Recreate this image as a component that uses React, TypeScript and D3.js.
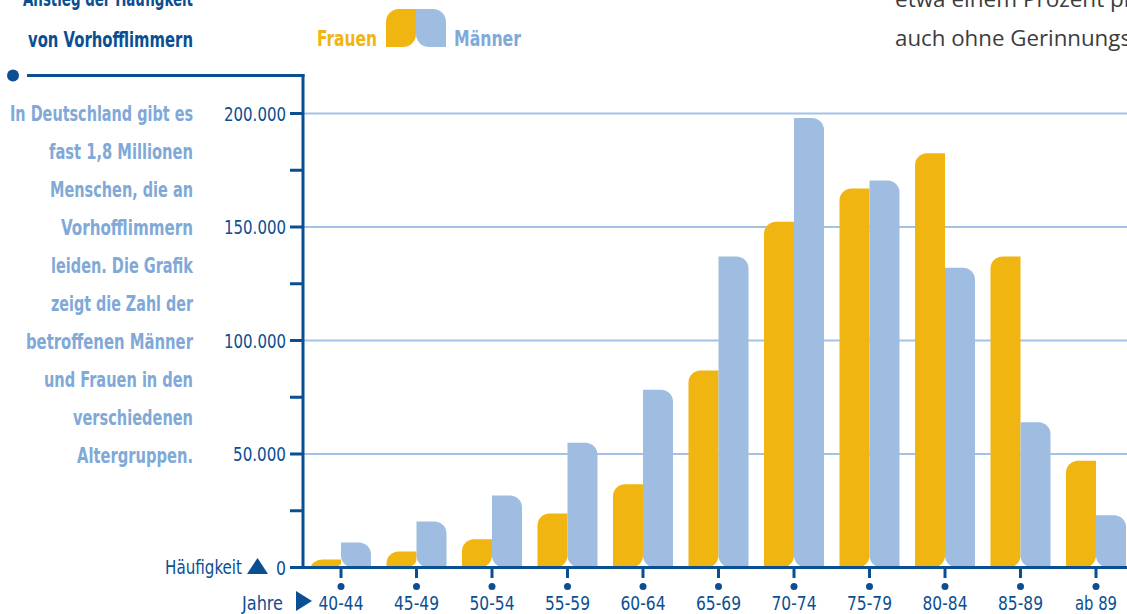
import React from "react";
import * as d3 from "d3";

const categories = ["40-44", "45-49", "50-54", "55-59", "60-64", "65-69", "70-74", "75-79", "80-84", "85-89", "ab 89"];
const frauen = [3500, 7000, 12500, 23800, 36700, 86800, 152300, 167000, 182500, 137000, 47000];
const maenner = [11000, 20300, 31700, 55000, 78300, 137000, 198000, 170500, 132000, 64000, 23000];
const majorTicks = [0, 50000, 100000, 150000, 200000];
const minorTicks = [25000, 75000, 125000, 175000];
const sideText = [
  "In Deutschland gibt es",
  "fast 1,8 Millionen",
  "Menschen, die an",
  "Vorhofflimmern",
  "leiden. Die Grafik",
  "zeigt die Zahl der",
  "betroffenen Männer",
  "und Frauen in den",
  "verschiedenen",
  "Altergruppen.",
];
const sideStarts = [10, 49, 50, 61, 51, 51, 26, 44, 73, 77];

const YELLOW = "#f0b510";
const BLUE = "#9fbde0";
const DARK = "#0b4f93";
const GRID = "#a4c2e6";
const SIDE = "#80a9d8";
const COND = "'DejaVu Sans Condensed', 'DejaVu Sans', sans-serif";

function leafF(x: number, y: number, w: number, h: number, r: number) {
  const rx = Math.min(r, w / 2);
  const ry1 = Math.min(r, h);
  const ry2 = Math.min(r, h / 2);
  return `M${x},${y + h}L${x},${y + ry1}A${rx},${ry1} 0 0 1 ${x + rx},${y}L${x + w},${y}L${x + w},${y + h - ry2}A${rx},${ry2} 0 0 1 ${x + w - rx},${y + h}Z`;
}
function leafM(x: number, y: number, w: number, h: number, r: number) {
  const rx = Math.min(r, w / 2);
  const ry1 = Math.min(r, h);
  const ry2 = Math.min(r, h / 2);
  return `M${x},${y}L${x + w - rx},${y}A${rx},${ry1} 0 0 1 ${x + w},${y + ry1}L${x + w},${y + h}L${x + rx},${y + h}A${rx},${ry2} 0 0 1 ${x},${y + h - ry2}Z`;
}

type TP = { x: number; y: number; len: number; anchor?: string; size: number; fill: string; bold?: boolean; family?: string; children: string };
function T({ x, y, len, anchor = "start", size, fill, bold, family = COND, children }: TP) {
  return (
    <text x={x} y={y} textAnchor={anchor} fontFamily={family} fontWeight={bold ? "bold" : "normal"} fontSize={size} fill={fill} textLength={len} lengthAdjust="spacingAndGlyphs">
      {children}
    </text>
  );
}

export default function App() {
  const W = 1127, H = 614;
  const axisX = 303;
  const y = d3.scaleLinear().domain([0, 200000]).range([567.5, 113.5]);
  const x = d3.scalePoint<string>().domain(categories).range([341, 1096]);
  const bw = 30;
  const r = 12;
  const fmt = (v: number) => d3.format(",")(v).replace(/,/g, ".");
  const labelW = (s: string) => (s.length === 1 ? 10 : s.length === 6 ? 53 : 62);

  return (
    <svg width={W} height={H} style={{ position: "absolute", left: 0, top: 0, background: "#fff" }}>
      {majorTicks.filter((t) => t > 0).map((t) => (
        <line key={"g" + t} x1={axisX} x2={W} y1={y(t)} y2={y(t)} stroke={GRID} strokeWidth={2} />
      ))}
      {categories.map((c, i) => {
        const cx = x(c)!;
        const hf = y(0) - y(frauen[i]);
        const hm = y(0) - y(maenner[i]);
        return (
          <g key={c}>
            <path d={leafF(cx - bw, y(frauen[i]), bw, hf, r)} fill={YELLOW} />
            <path d={leafM(cx, y(maenner[i]), bw, hm, r)} fill={BLUE} />
          </g>
        );
      })}
      {/* y axis */}
      <line x1={axisX} x2={axisX} y1={74} y2={569} stroke={DARK} strokeWidth={3} />
      <line x1={27} x2={axisX + 1.5} y1={75.5} y2={75.5} stroke={DARK} strokeWidth={3} />
      <circle cx={13} cy={75.5} r={6} fill={DARK} />
      {majorTicks.map((t) => (
        <g key={"t" + t}>
          <line x1={290} x2={axisX} y1={y(t)} y2={y(t)} stroke={DARK} strokeWidth={3} />
          <T x={286} y={y(t) + 7} anchor="end" size={19} fill={DARK} len={labelW(fmt(t))}>{fmt(t)}</T>
        </g>
      ))}
      {minorTicks.map((t) => (
        <line key={"m" + t} x1={290} x2={axisX} y1={y(t)} y2={y(t)} stroke={DARK} strokeWidth={3} />
      ))}
      <T x={242} y={574} anchor="end" size={20} fill={DARK} len={77}>Häufigkeit</T>
      <path d="M247,574L257.5,558L268,574Z" fill={DARK} />
      {/* x axis */}
      <line x1={290} x2={W} y1={567.5} y2={567.5} stroke={DARK} strokeWidth={3} />
      {categories.map((c) => (
        <g key={"x" + c}>
          <line x1={x(c)!} x2={x(c)!} y1={567} y2={578} stroke={DARK} strokeWidth={3} />
          <circle cx={x(c)!} cy={586.5} r={3.5} fill={DARK} />
          <T x={x(c)!} y={610} anchor="middle" size={20} fill={DARK} len={c === "ab 89" ? 42 : 45}>{c}</T>
        </g>
      ))}
      <T x={283} y={610} anchor="end" size={20} fill={DARK} len={41}>Jahre</T>
      <path d="M296,591L312,601L296,611Z" fill={DARK} />
      {/* title */}
      <T x={193} y={6} anchor="end" size={21} bold fill={DARK} len={170}>Anstieg der Häufigkeit</T>
      <T x={193} y={47} anchor="end" size={21} bold fill={DARK} len={165}>von Vorhofflimmern</T>
      {/* side text */}
      {sideText.map((s, i) => (
        <T key={s} x={193} y={121 + i * 38} anchor="end" size={21} bold fill={SIDE} len={193 - sideStarts[i]}>{s}</T>
      ))}
      {/* legend */}
      <T x={317} y={46} size={21} bold fill={YELLOW} len={60}>Frauen</T>
      <path d={leafF(386, 9, 30, 38, 13)} fill={YELLOW} />
      <path d={leafM(416, 9, 30, 38, 13)} fill={BLUE} />
      <T x={454} y={46} size={21} bold fill={SIDE} len={67}>Männer</T>
      {/* top right text */}
      <T x={895} y={7} size={21} family="'Open Sans', 'Noto Sans', sans-serif" fill="#3c3c3c" len={238}>etwa einem Prozent pr</T>
      <T x={895} y={46} size={21} family="'Open Sans', 'Noto Sans', sans-serif" fill="#3c3c3c" len={236}>auch ohne Gerinnungs</T>
    </svg>
  );
}
